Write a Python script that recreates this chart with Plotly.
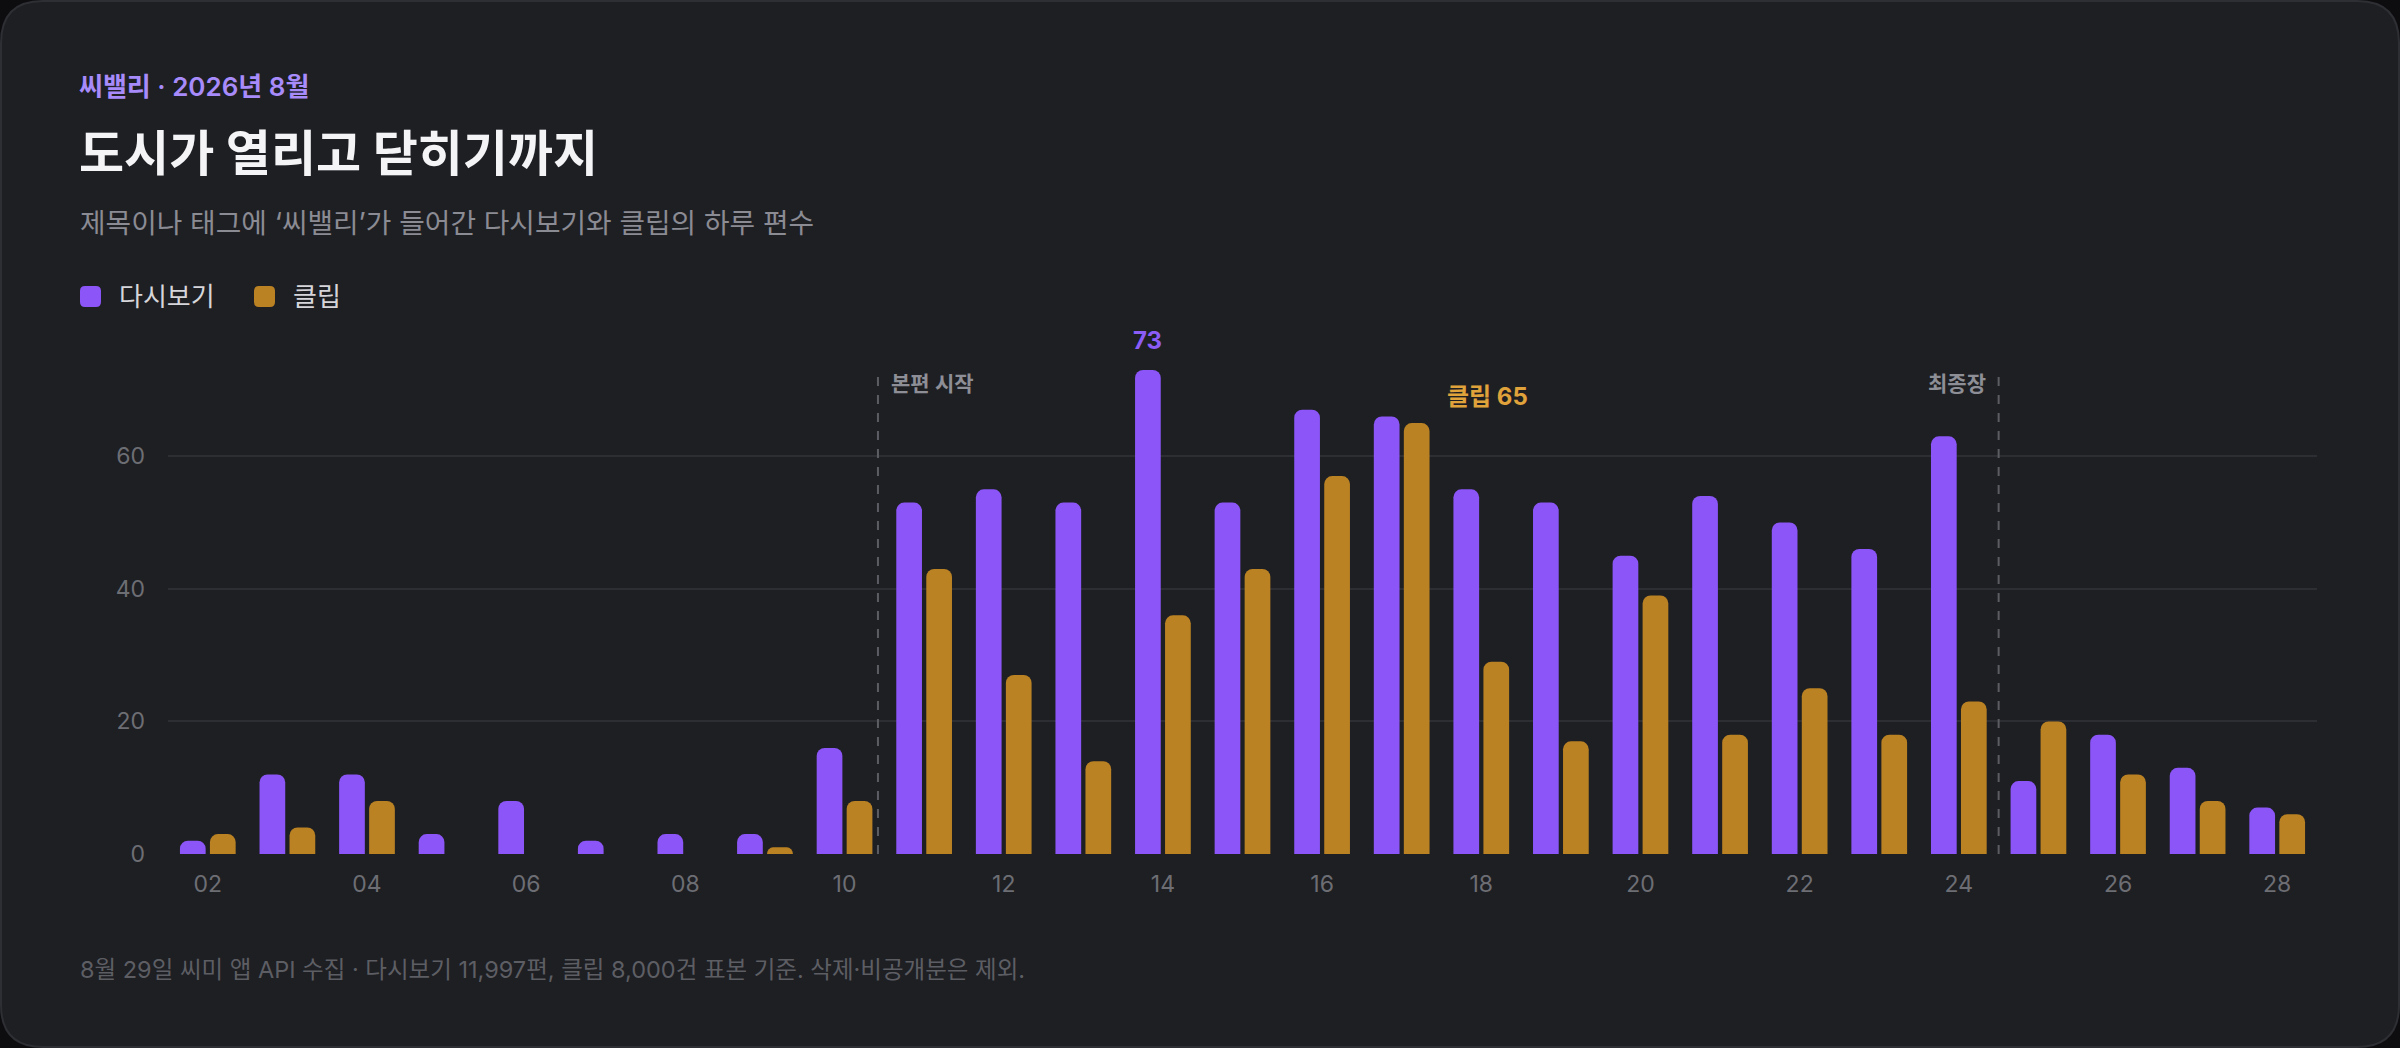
import plotly.graph_objects as go

# 8월 일자별 편수 (씨밸리 태그/제목 포함)
days = list(range(2, 29))
replays = [2, 12, 12, 3, 8, 2, 3, 3, 16, 53, 55, 53, 73, 53, 67, 66, 55, 53, 45, 54, 50, 46, 63, 11, 18, 13, 7]
clips = [3, 4, 8, 0, 0, 0, 0, 1, 8, 43, 27, 14, 36, 43, 57, 65, 29, 17, 39, 18, 25, 18, 23, 20, 12, 8, 6]
series_names = ["다시보기", "클립"]
tick_days = days[::2]
tick_text = [f"{d:02d}" for d in tick_days]
events = [(10.42, "본편 시작", "left"), (24.5, "최종장", "right")]

W, H = 2400, 1048
ML, MR, MT, MB = 168, 83, 370, 194
PW, PH = W - ML - MR, H - MT - MB

PURPLE = "#8b55f7"
GOLD = "#bb8223"
CARD = "#1e1f23"
FONT = "Inter, 'Noto Sans CJK KR', sans-serif"


def px_x(x):
    return (x - ML) / PW


def px_y(y):
    return (H - MB - y) / PH


def rrect(x0, y0, x1, y1, r):
    pts = [
        ("M", x0 + r, y0), ("L", x1 - r, y0), ("Q", x1, y0, x1, y0 + r),
        ("L", x1, y1 - r), ("Q", x1, y1, x1 - r, y1), ("L", x0 + r, y1),
        ("Q", x0, y1, x0, y1 - r), ("L", x0, y0 + r), ("Q", x0, y0, x0 + r, y0),
    ]
    out = []
    for p in pts:
        coords = p[1:]
        s = p[0]
        for i in range(0, len(coords), 2):
            s += f" {px_x(coords[i]):.5f},{px_y(coords[i + 1]):.5f}"
        out.append(s)
    return " ".join(out) + " Z"


fig = go.Figure()
fig.add_trace(go.Bar(x=days, y=replays, name=series_names[0], marker_color=PURPLE,
                     marker_line_width=0, showlegend=False, hoverinfo="x+y+name"))
fig.add_trace(go.Bar(x=days, y=clips, name=series_names[1], marker_color=GOLD,
                     marker_line_width=0, showlegend=False, hoverinfo="x+y+name"))

shapes = [
    dict(type="path", xref="paper", yref="paper", layer="below",
         path=rrect(1, 1, W - 1, H - 1, 42), fillcolor=CARD,
         line=dict(color="#2e2f34", width=2)),
]
for xv, label, side in events:
    shapes.append(dict(type="line", xref="x", yref="paper", x0=xv, x1=xv, y0=0, y1=1,
                       line=dict(color="#5c5d63", width=2, dash="dash")))

annotations = [
    dict(text="씨밸리 · 2026년 8월", x=px_x(77), y=px_y(87), xanchor="left", yanchor="middle",
         font=dict(size=26, color="#a78bfa", weight=600)),
    dict(text="<b>도시가 열리고 닫히기까지</b>", x=px_x(77), y=px_y(153), xanchor="left", yanchor="middle",
         font=dict(size=49, color="#f4f4f6")),
    dict(text="제목이나 태그에 ‘씨밸리’가 들어간 다시보기와 클립의 하루 편수", x=px_x(78), y=px_y(223),
         xanchor="left", yanchor="middle", font=dict(size=27.8, color="#8b8b93")),
    dict(text="8월 29일 씨미 앱 API 수집 · 다시보기 11,997편, 클립 8,000건 표본 기준. 삭제·비공개분은 제외.",
         x=px_x(78), y=px_y(969), xanchor="left", yanchor="middle", font=dict(size=23.5, color="#5d5e64")),
]

# 범례
legend_items = [(series_names[0], PURPLE, 80, 117), (series_names[1], GOLD, 254, 291)]
for name, col, mx, tx in legend_items:
    shapes.append(dict(type="path", xref="paper", yref="paper", path=rrect(mx, 286, mx + 21, 307, 5),
                       fillcolor=col, line=dict(width=0)))
    annotations.append(dict(text=name, x=px_x(tx), y=px_y(297), xanchor="left", yanchor="middle",
                            font=dict(size=26, color="#d6d6da")))

for xv, label, side in events:
    annotations.append(dict(text=label, x=xv, xref="x", y=px_y(383), yref="paper",
                            xanchor=side, yanchor="middle", xshift=11 if side == "left" else -11,
                            font=dict(size=21, color="#8e8f96", weight=600)))

peak_i = replays.index(max(replays))
annotations.append(dict(text=f"<b>{replays[peak_i]}</b>", x=days[peak_i], y=replays[peak_i], xref="x", yref="y",
                        xshift=-15, yshift=30, yanchor="middle", showarrow=False,
                        font=dict(size=24, color="#8b5cf6")))
clip_i = clips.index(max(clips))
annotations.append(dict(text=f"<b>클립 {clips[clip_i]}</b>", x=days[clip_i], y=clips[clip_i], xref="x", yref="y",
                        xshift=43, yshift=27, xanchor="left", yanchor="middle", showarrow=False,
                        font=dict(size=24, color="#e0a23a")))

for a in annotations:
    a.setdefault("xref", "paper")
    a.setdefault("yref", "paper")
    a.setdefault("showarrow", False)

fig.update_layout(
    width=W, height=H,
    margin=dict(l=ML, r=MR, t=MT, b=MB, autoexpand=False),
    paper_bgcolor="#0d0d0f",
    plot_bgcolor=CARD,
    font=dict(family=FONT, color="#6d6e74"),
    barmode="group",
    bargap=0.246,
    bargroupgap=0.143,
    barcornerradius=8,
    shapes=shapes,
    annotations=annotations,
    showlegend=False,
    xaxis=dict(range=[days[0] - 0.5, days[-1] + 0.5], tickvals=tick_days, ticktext=tick_text,
               showgrid=False, zeroline=False, showline=False, ticks="",
               tickfont=dict(size=23, color="#6d6e74"), ticklabelstandoff=14),
    yaxis=dict(range=[0, max(replays)], tickvals=[0, 20, 40, 60], showgrid=True,
               gridcolor="#2d2e33", gridwidth=2, zeroline=False, showline=False, ticks="",
               tickfont=dict(size=23, color="#6d6e74"), ticklabelstandoff=22),
)

# 페이지 기본 여백 제거 (카드가 창 가장자리에 맞도록)
fig.write_html("out.html", config={"displayModeBar": False},
               post_script="document.body.style.margin='0';document.body.style.overflow='hidden';")
